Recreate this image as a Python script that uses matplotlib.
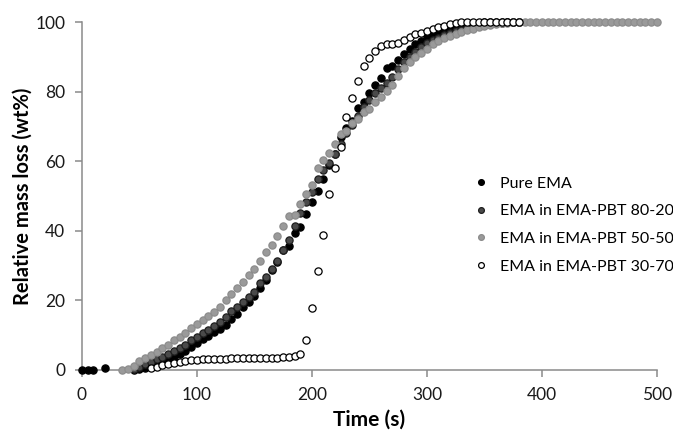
import matplotlib
matplotlib.use("Agg")
import matplotlib.pyplot as plt

plt.rcParams["font.family"] = ["Lato", "DejaVu Sans"]

# time grids (s), sampled every 5 s
t_pure = [0, 5, 10, 20] + list(range(45, 385, 5))
t_8020 = list(range(45, 385, 5))
t_5050 = list(range(35, 505, 5))
t_3070 = list(range(60, 385, 5))

# relative mass loss (wt%)
pure_ema = [0, 0, 0, 0.5,
            0, 0.2, 0.6, 1.2, 1.8, 2.4, 3.0, 3.8, 4.6, 5.5,
            6.6, 7.8, 8.8, 9.8, 10.8, 11.9, 13.0, 14.8, 16.2, 18.2,
            19.6, 21.4, 23.6, 26.0, 28.6, 31.0, 34.6, 35.5, 39.4, 41.2,
            44.8, 48.2, 51.4, 54.8, 58.9, 62.0, 66.9, 69.5, 71.6, 75.2,
            77.1, 79.7, 81.9, 83.8, 86.9, 87.5, 89.2, 90.8, 92.3, 93.6,
            94.7, 95.6, 96.4, 97.1, 97.7, 98.2, 98.6, 99.0, 99.3, 99.6,
            99.8, 99.9, 100, 100, 100, 100, 100, 100]
ema_8020 = [0.3, 0.8, 1.6, 2.4, 3.1, 3.8, 4.6, 5.4, 6.3, 7.3,
            8.5, 9.6, 10.6, 11.5, 12.6, 13.7, 15.2, 17.0, 18.2, 19.6,
            21.0, 22.3, 24.9, 26.8, 28.9, 31.4, 34.5, 37.5, 41.4, 45.0,
            48.2, 51.2, 55.0, 57.5, 59.5, 62.0, 65.0, 68.0, 70.5, 73.0,
            75.5, 77.5, 79.5, 81.0, 82.5, 84.2, 86.5, 88.6, 90.0, 91.5,
            92.7, 93.9, 94.8, 95.5, 96.2, 96.8, 97.3, 97.8, 98.2, 98.6,
            99.0, 99.3, 99.5, 99.7, 99.8, 99.9, 100, 100]
ema_5050 = [0, 0.4, 1.2, 2.5, 3.4, 4.3, 5.2, 6.2, 7.2, 8.5,
            9.5, 10.7, 12.0, 13.2, 14.3, 15.5, 16.8, 18.2, 20.0, 21.8,
            23.6, 25.4, 27.3, 29.0, 31.4, 34.0, 35.9, 38.5, 41.5, 44.3,
            44.5, 47.6, 50.6, 53.2, 58.1, 60.5, 62.5, 65.0, 67.8, 68.7,
            70.9, 72.0, 74.2, 74.9, 76.9, 78.5, 80.3, 82.0, 84.5, 86.7,
            88.6, 90.0, 91.0, 92.4, 93.6, 94.5, 95.3, 96.0, 96.7, 97.2,
            97.7, 98.1, 98.5, 98.9, 99.2, 99.5, 99.7, 99.8, 99.9, 100] + [100] * 24
ema_3070 = [0.5, 1.0, 1.4, 1.8, 2.1, 2.4, 2.6, 2.8, 3.0, 3.1,
            3.2, 3.2, 3.3, 3.3, 3.4, 3.4, 3.4, 3.5, 3.5, 3.5,
            3.5, 3.5, 3.5, 3.6, 3.8, 4.1, 4.5, 8.6, 17.7, 28.5,
            38.8, 50.5, 58.0, 64.2, 72.7, 78.3, 83.1, 87.4, 89.8, 91.7,
            93.1, 93.6, 93.6, 93.9, 94.8, 95.8, 96.5, 97.0, 97.4, 98.0,
            98.5, 98.9, 99.4, 99.7, 100, 100, 100, 100, 100, 100,
            100, 100, 100, 100, 100]

series = [
    ("Pure EMA", t_pure, pure_ema, "black", "black"),
    ("EMA in EMA-PBT 80-20", t_8020, ema_8020, "#4a4a4a", "#1e1e1e"),
    ("EMA in EMA-PBT 50-50", t_5050, ema_5050, "#9a9a9a", "#8c8c8c"),
    ("EMA in EMA-PBT 30-70", t_3070, ema_3070, "white", "black"),
]

fig = plt.figure(figsize=(6.73, 4.33), dpi=100)
ax = fig.add_axes([0.1218, 0.1455, 0.8542, 0.8035])

for label, t, y, fc, ec in series:
    ax.plot(t, y, ls="none", marker="o", ms=5.2, mfc=fc, mec=ec, mew=0.9,
            label=label, clip_on=False, zorder=3)

ax.set_xlim(0, 500)
ax.set_ylim(0, 100)
ax.set_xticks(range(0, 600, 100))
ax.set_yticks(range(0, 120, 20))
for s in ("top", "right"):
    ax.spines[s].set_visible(False)
for s in ("left", "bottom"):
    ax.spines[s].set_color("#8a8a8a")
    ax.spines[s].set_linewidth(1.1)
ax.tick_params(direction="out", length=5, width=1.1, color="#8a8a8a",
               labelsize=12.5, labelcolor="#1a1a1a", pad=7)

ax.set_xlabel("Time (s)", fontsize=15, weight="bold", labelpad=5)
ax.set_ylabel("Relative mass loss (wt%)", fontsize=14.5, weight="bold", labelpad=2)

ax.legend(loc="upper left", bbox_to_anchor=(0.656, 0.575), frameon=False,
          fontsize=11.5, handletextpad=0.15, labelspacing=0.85, markerscale=0.8,
          borderaxespad=0)

fig.savefig("out.png", dpi=100, facecolor="white")
